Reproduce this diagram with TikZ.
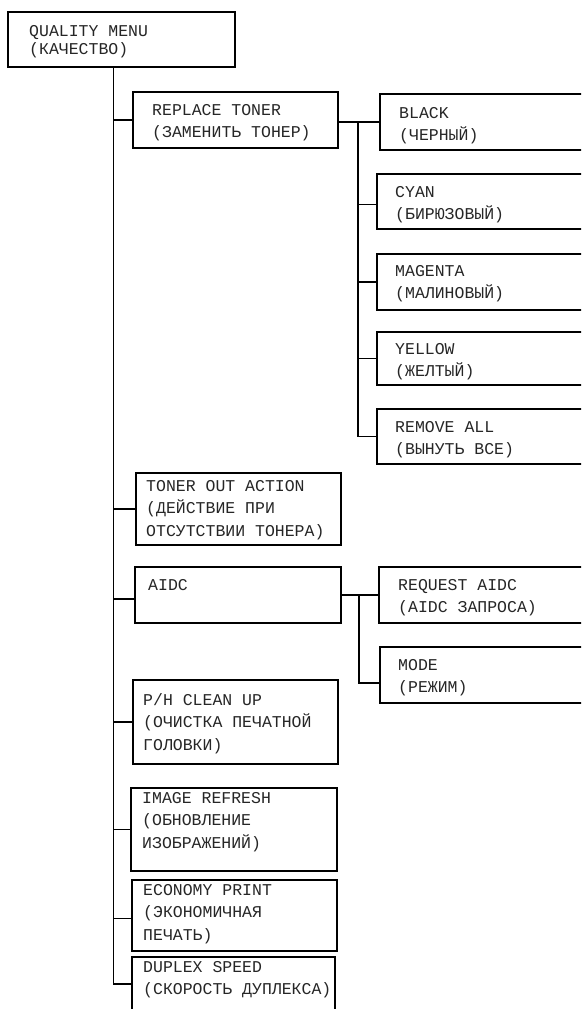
\documentclass[tikz,border=0pt]{standalone}
\usepackage{fontspec}
\setmonofont{Liberation Mono}
\tikzset{
  box/.style={draw, line width=1.8pt, inner sep=0pt, anchor=north west},
  txt/.style={inner sep=0pt, anchor=north west, align=left, text=black!85,
    font={\ttfamily\fontsize{16.5}{22.5}\selectfont\lineskiplimit=-100pt}},
  roottxt/.style={txt, font={\ttfamily\fontsize{16.5}{18}\selectfont\lineskiplimit=-100pt}},
  conn/.style={line width=1.8pt}
}
% \menubox{name}{x}{y}{w}{h}{text dx}{first baseline from top}{style}{text}
\newcommand\menubox[9]{%
  \node[box, minimum width=#4pt, minimum height=#5pt] (#1) at (#2,#3) {};
  \pgfmathsetmacro\mydy{#7-16}%
  \node[#8] (#1-t) at ([shift={(#6pt,-\mydy pt)}]#1.north west) {\rule{0pt}{16pt}#9};
}
\begin{document}
\begin{tikzpicture}[x=1pt,y=-1pt]
\useasboundingbox (0,0) rectangle (581,1009);
\clip (0,0) rectangle (581,1009);

\menubox{root}{7}{11}{227}{55}{22}{25}{roottxt}{QUALITY MENU\\(КАЧЕСТВО)}
\menubox{rt}{132}{91}{205}{56}{20}{24}{txt}{REPLACE TONER\\(ЗАМЕНИТЬ ТОНЕР)}
\menubox{toa}{135}{472}{205}{72}{11}{19}{txt}{TONER OUT ACTION\\(ДЕЙСТВИЕ ПРИ\\ОТСУТСТВИИ ТОНЕРА)}
\menubox{aidc}{134}{566}{206}{56}{14}{24}{txt}{AIDC}
\menubox{ph}{132}{679}{205}{84}{11}{26}{txt}{P/H CLEAN UP\\(ОЧИСТКА ПЕЧАТНОЙ\\ГОЛОВКИ)}
\menubox{ir}{130}{787}{206}{83}{12}{16}{txt}{IMAGE REFRESH\\(ОБНОВЛЕНИЕ\\ИЗОБРАЖЕНИЙ)}
\menubox{ep}{131}{879}{205}{71}{12}{16}{txt}{ECONOMY PRINT\\(ЭКОНОМИЧНАЯ\\ПЕЧАТЬ)}
\menubox{ds}{131}{956}{203}{54}{12}{16}{txt}{DUPLEX SPEED\\(СКОРОСТЬ ДУПЛЕКСА)}

\menubox{black}{379}{93}{260}{56}{20}{25}{txt}{BLACK\\(ЧЕРНЫЙ)}
\menubox{cyan}{376}{173}{260}{55}{19}{24}{txt}{CYAN\\(БИРЮЗОВЫЙ)}
\menubox{magenta}{376}{253}{260}{56}{19}{23}{txt}{MAGENTA\\(МАЛИНОВЫЙ)}
\menubox{yellow}{376}{331}{260}{53}{19}{23}{txt}{YELLOW\\(ЖЕЛТЫЙ)}
\menubox{remove}{376}{408}{260}{55}{19}{24}{txt}{REMOVE ALL\\(ВЫНУТЬ ВСЕ)}
\menubox{req}{378}{566}{260}{56}{20}{24}{txt}{REQUEST AIDC\\(AIDC ЗАПРОСА)}
\menubox{mode}{379}{646}{260}{56}{19}{24}{txt}{MODE\\(РЕЖИМ)}

% main trunk
\coordinate (tr) at (113.5,0);
\draw[conn] (root.south -| tr) |- (ds.west);
\draw[conn] (tr |- rt.west) -- (rt.west);
\draw[conn] (tr |- toa.west) -- (toa.west);
\draw[conn] ([yshift=-4pt]tr |- aidc.west) -- ([yshift=-4pt]aidc.west);
\draw[conn] (tr |- ph.west) -- (ph.west);
\draw[conn] (tr |- ir.west) -- (ir.west);
\draw[conn] ([yshift=-3pt]tr |- ep.west) -- ([yshift=-3pt]ep.west);

% toner sub-trunk
\coordinate (s1) at (358,0);
\draw[conn] (rt.east |- black.west) -- (black.west);
\draw[conn] (s1 |- black.west) |- (remove.west);
\draw[conn] ([yshift=-3pt]s1 |- cyan.west) -- ([yshift=-3pt]cyan.west);
\draw[conn] (s1 |- magenta.west) -- (magenta.west);
\draw[conn] (s1 |- yellow.west) -- (yellow.west);

% AIDC sub-trunk
\coordinate (s2) at (359,0);
\draw[conn] (aidc.east |- req.west) -- (req.west);
\draw[conn] (s2 |- req.west) |- ([yshift=-8pt]mode.west);
\end{tikzpicture}
\end{document}
